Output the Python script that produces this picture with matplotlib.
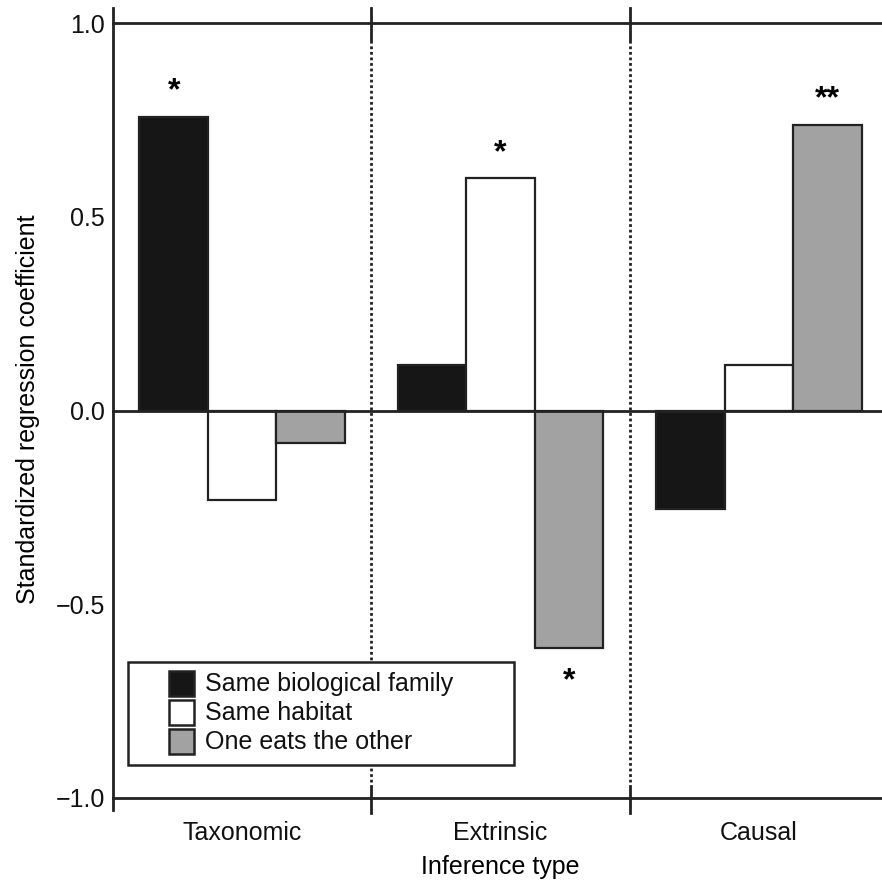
import numpy as np
import matplotlib
matplotlib.use("Agg")
import matplotlib.pyplot as plt
from matplotlib.patches import Rectangle

plt.rcParams['font.family'] = ['Liberation Sans', 'DejaVu Sans']

# data
groups = ["Taxonomic", "Extrinsic", "Causal"]
series = ["Same biological family", "Same habitat", "One eats the other"]
family = [0.758, 0.117, -0.254]
habitat = [-0.232, 0.600, 0.117]
eats = [-0.085, -0.613, 0.738]
stars = [["*", "", ""], ["", "*", "*"], ["", "", "**"]]  # per group, per series
colors = ["#161616", "#ffffff", "#a2a2a2"]
edge = "#222222"

fig = plt.figure(figsize=(8.82, 8.81), dpi=100)
ax = fig.add_axes([113/882, 1-810/881, 775/882, 802/881])
ax.set_xlim(-0.5, 2.5)
ax.set_ylim(-1.031, 1.039)

x = np.arange(len(groups))
w = 0.265
vals = [family, habitat, eats]
for i, (v, c) in enumerate(zip(vals, colors)):
    pos = x + (i - 1) * w
    ax.bar(pos, v, w, color=c, edgecolor=edge, linewidth=1.6, zorder=3)
    for g in range(len(groups)):
        s = stars[g][i]
        if s:
            off = 0.065 if v[g] > 0 else -0.085
            ax.text(pos[g], v[g] + off, s, ha="center", va="center", fontsize=23,
                    fontweight="bold", zorder=4)

# frame lines
for yl in (1.0, 0.0, -1.0):
    ax.axhline(yl, color=edge, lw=2, zorder=5, clip_on=False)
for xs in (0.5, 1.5):
    ax.plot([xs, xs], [-0.96, 0.95], color=edge, lw=2, ls=(0, (1, 1)), zorder=2)
    ax.plot([xs, xs], [0.955, 1.039], color=edge, lw=2, zorder=5, clip_on=False)
    ax.plot([xs, xs], [-0.968, -1.04], color=edge, lw=2, zorder=5, clip_on=False)

for s in ["top", "right", "bottom"]:
    ax.spines[s].set_visible(False)
ax.spines["left"].set_linewidth(2)
ax.spines["left"].set_color(edge)

ax.set_yticks([1.0, 0.5, 0.0, -0.5, -1.0])
ax.set_yticklabels(["1.0", "0.5", "0.0", "\u22120.5", "\u22121.0"])
ax.set_xticks(x)
ax.set_xticklabels(groups)
ax.tick_params(axis="both", length=0, labelsize=18, colors="#111111")
ax.tick_params(axis="y", pad=6)
ax.tick_params(axis="x", pad=8)
ax.set_ylabel("Standardized regression coefficient", fontsize=18, labelpad=11)
ax.set_xlabel("Inference type", fontsize=18, labelpad=7)

# legend, drawn by hand inside its box
ax.add_patch(Rectangle((-0.442, -0.914), 1.494, 0.266, facecolor="white",
                       edgecolor=edge, lw=1.8, zorder=6))
hw, hh = 0.0965, 0.0645
for k, (lab, c) in enumerate(zip(series, colors)):
    top = -0.6735 - k * 0.0748
    ax.add_patch(Rectangle((-0.284, top - hh), hw, hh, facecolor=c,
                           edgecolor=edge, lw=1.8, zorder=7))
    ax.text(-0.145, top - hh / 2, lab, fontsize=18, va="center", ha="left",
            color="#111111", zorder=7)

fig.savefig("out.png", dpi=100)
